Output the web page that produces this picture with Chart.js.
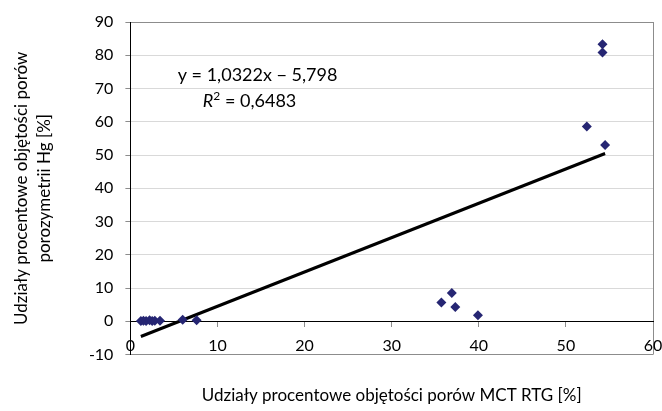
<!DOCTYPE html>
<html lang="pl">
<head>
<meta charset="UTF-8">
<title>Udziały procentowe objętości porów</title>
<script src="https://cdn.jsdelivr.net/npm/chart.js"></script>
<style>
  html, body { margin: 0; padding: 0; background: #fff; }
  #wrap { width: 662px; height: 411px; }
</style>
</head>
<body>
<div id="wrap"><canvas id="chart"></canvas></div>
<script>
  // MCT RTG share (x) vs Hg porosimetry share (y)
  const mctValues = [1.2, 1.5, 1.8, 2.2, 2.5, 2.8, 3.4, 6.0, 7.6, 35.7, 36.9, 37.3, 39.9, 52.4, 54.2, 54.2, 54.5];
  const hgValues  = [0.1, 0.2, 0.1, 0.3, 0.1, 0.2, 0.2, 0.5, 0.3, 5.7, 8.5, 4.3, 1.8, 58.6, 83.3, 80.8, 53.0];

  // linear trend line as printed on the chart
  const trendSlope = 1.0322;
  const trendIntercept = -5.798;
  const equationText = "y = 1,0322x \u2212 5,798";
  const r2Text = " = 0,6483";

  const xTitle = "Udziały procentowe objętości porów MCT RTG [%]";
  const yTitle = ["Udziały procentowe objętości porów", "porozymetrii Hg [%]"];

  const FONT = "Lato";
  const points = mctValues.map((x, i) => ({ x: x, y: hgValues[i] }));
  const xMin = Math.min(...mctValues), xMax = Math.max(...mctValues);
  const trend = [xMin, xMax].map(x => ({ x: x, y: trendSlope * x + trendIntercept }));

  // draws the equation and R² label inside the plot
  const equationLabel = {
    id: "equationLabel",
    afterDatasetsDraw(chart) {
      const { ctx, scales } = chart;
      const cx = scales.x.getPixelForValue(14.6);
      const y1 = scales.y.getPixelForValue(74.1);
      const y2 = scales.y.getPixelForValue(66.3);
      ctx.save();
      ctx.fillStyle = "#000";
      ctx.textBaseline = "middle";
      ctx.textAlign = "center";
      ctx.font = "18px " + FONT;
      ctx.fillText(equationText, cx, y1);
      // R² line: italic R, superscript 2, then the value
      const italic = "italic 18px " + FONT, plain = "18px " + FONT, small = "12px " + FONT;
      ctx.font = italic; const wR = ctx.measureText("R").width;
      ctx.font = small;  const w2 = ctx.measureText("2").width;
      ctx.font = plain;  const wV = ctx.measureText(r2Text).width;
      let x = cx - 8 - (wR + w2 + wV) / 2;
      ctx.textAlign = "left";
      ctx.font = italic; ctx.fillText("R", x, y2); x += wR;
      ctx.font = small;  ctx.fillText("2", x, y2 - 5); x += w2;
      ctx.font = plain;  ctx.fillText(r2Text, x, y2);
      ctx.restore();
    }
  };

  new Chart(document.getElementById("chart"), {
    type: "scatter",
    data: {
      datasets: [
        {
          label: "dane",
          data: points,
          pointStyle: "rectRot",
          pointRadius: 5,
          pointBackgroundColor: "#262673",
          pointBorderColor: "#262673",
          pointBorderWidth: 0,
          order: 1
        },
        {
          label: "trend",
          type: "line",
          data: trend,
          borderColor: "#000",
          borderWidth: 3,
          pointRadius: 0,
          fill: false,
          order: 2
        }
      ]
    },
    options: {
      responsive: true,
      maintainAspectRatio: false,
      animation: false,
      layout: { padding: { top: 22, right: 9, left: 10, bottom: 5 } },
      plugins: {
        legend: { display: false },
        tooltip: { enabled: false }
      },
      scales: {
        x: {
          type: "linear",
          position: { y: 0 },
          min: 0,
          max: 60,
          ticks: { stepSize: 10, color: "#000", font: { family: FONT, size: 16 }, padding: 10, maxRotation: 0 },
          grid: {
            color: c => c.tick && c.tick.value === 60 ? "#8c8c8c" : "rgba(0,0,0,0)",
            tickColor: "#8c8c8c",
            tickLength: 5
          },
          border: { color: "#000", width: 1 },
          // let the end labels hang over the frame like in the original
          afterFit(scale) { scale.paddingLeft = 0; scale.paddingRight = 0; }
        },
        xTitleAxis: {
          type: "linear",
          position: "bottom",
          min: 0,
          max: 60,
          grid: { display: false },
          ticks: { display: false },
          border: { display: false },
          title: { display: true, text: xTitle, color: "#000", font: { family: FONT, size: 17 }, padding: { top: 23, bottom: 0 } }
        },
        y: {
          min: -10,
          max: 90,
          ticks: { stepSize: 10, color: "#000", font: { family: FONT, size: 16 }, padding: 12 },
          grid: {
            color: c => {
              const v = c.tick ? c.tick.value : null;
              if (v === 0) return "#000";
              if (v === -10 || v === 90) return "#8c8c8c";
              return "#d9d9d9";
            },
            tickColor: "#8c8c8c",
            tickLength: 5
          },
          border: { color: "#000", width: 1 },
          title: { display: true, text: yTitle, color: "#000", font: { family: FONT, size: 17, lineHeight: 1.35 }, padding: { top: 0, bottom: 21 } }
        }
      }
    },
    plugins: [equationLabel]
  });
</script>
</body>
</html>
